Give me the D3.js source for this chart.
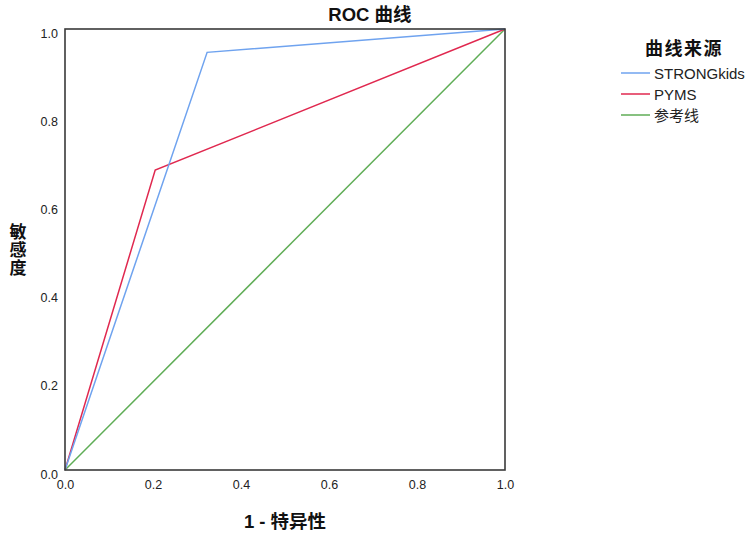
<!DOCTYPE html>
<html>
<head>
<meta charset="utf-8">
<style>
  body { margin: 0; background: #fff; }
  svg { font-family: Arial, "Liberation Sans", "Noto Sans CJK SC", sans-serif; }
</style>
</head>
<body>
<svg id="chart"></svg>
<script src="https://d3js.org/d3.v7.min.js"></script>
<script>
  const width = 750, height = 534;
  const margin = {left: 65, top: 29, right: 245, bottom: 64};

  // data
  const seriesNames = ['STRONGkids', 'PYMS', '参考线'];
  const seriesColors = ['#6fa3ef', '#e0284f', '#5fad56'];
  const strongX = [0, 0.323, 1];
  const strongY = [0, 0.947, 1];
  const pymsX = [0, 0.205, 1];
  const pymsY = [0, 0.68, 1];
  const refX = [0, 1];
  const refY = [0, 1];
  const ticks = [0, 0.2, 0.4, 0.6, 0.8, 1.0];

  const series = [
    {name: seriesNames[0], color: seriesColors[0], pts: strongX.map((x, i) => [x, strongY[i]])},
    {name: seriesNames[1], color: seriesColors[1], pts: pymsX.map((x, i) => [x, pymsY[i]])},
    {name: seriesNames[2], color: seriesColors[2], pts: refX.map((x, i) => [x, refY[i]])}
  ];

  const svg = d3.select('#chart').attr('width', width).attr('height', height);

  const x = d3.scaleLinear().domain([0, 1]).range([margin.left, width - margin.right]);
  const y = d3.scaleLinear().domain([0, 1]).range([height - margin.bottom, margin.top]);

  // axes (labels only, no tick marks)
  const xAxis = svg.append('g')
      .attr('transform', `translate(0,${height - margin.bottom})`)
      .call(d3.axisBottom(x).tickValues(ticks).tickFormat(d3.format('.1f')).tickSize(0).tickPadding(10));
  const yAxis = svg.append('g')
      .attr('transform', `translate(${margin.left},0)`)
      .call(d3.axisLeft(y).tickValues(ticks).tickFormat(d3.format('.1f')).tickSize(0).tickPadding(7));
  [xAxis, yAxis].forEach(a => {
    a.select('.domain').remove();
    a.selectAll('text').attr('font-size', 12.5).attr('fill', '#222')
      .attr('font-family', 'Arial, "Liberation Sans", sans-serif');
  });
  yAxis.selectAll('text').attr('dy', '0.65em');

  // lines
  const line = d3.line().x(d => x(d[0])).y(d => y(d[1]));
  svg.append('g').selectAll('path')
    .data(series.slice().reverse())
    .join('path')
      .attr('d', d => line(d.pts))
      .attr('fill', 'none')
      .attr('stroke', d => d.color)
      .attr('stroke-width', 1.5);

  // frame
  svg.append('rect')
      .attr('x', x(0)).attr('y', y(1))
      .attr('width', x(1) - x(0)).attr('height', y(0) - y(1))
      .attr('fill', 'none').attr('stroke', '#3a3a3a').attr('stroke-width', 1.6);

  // title
  svg.append('text')
      .attr('x', 370).attr('y', 21)
      .attr('text-anchor', 'middle')
      .attr('font-size', 18.5).attr('font-weight', 'bold').attr('fill', '#111')
      .text('ROC 曲线');

  // axis titles
  svg.append('text')
      .attr('x', 285).attr('y', 528)
      .attr('text-anchor', 'middle')
      .attr('font-size', 18.5).attr('font-weight', 'bold').attr('fill', '#111')
      .text('1 - 特异性');

  svg.append('text')
      .attr('x', 16).attr('y', 223)
      .style('writing-mode', 'vertical-rl')
      .attr('font-size', 17).attr('font-weight', 'bold').attr('fill', '#111')
      .attr('letter-spacing', 1)
      .text('敏感度');

  // legend
  const legend = svg.append('g');
  legend.append('text')
      .attr('x', 684).attr('y', 55)
      .attr('text-anchor', 'middle')
      .attr('font-size', 18).attr('font-weight', 'bold').attr('fill', '#111')
      .attr('letter-spacing', 1.5)
      .text('曲线来源');
  const items = legend.selectAll('g.item')
    .data(series)
    .join('g')
      .attr('class', 'item')
      .attr('transform', (d, i) => `translate(621,${73 + i * 21})`);
  items.append('line')
      .attr('x1', 0).attr('x2', 29)
      .attr('stroke', d => d.color).attr('stroke-width', 1.5);
  items.append('text')
      .attr('x', 33).attr('y', 5.5)
      .attr('font-size', 15).attr('fill', '#222')
      .text(d => d.name);
</script>
</body>
</html>
